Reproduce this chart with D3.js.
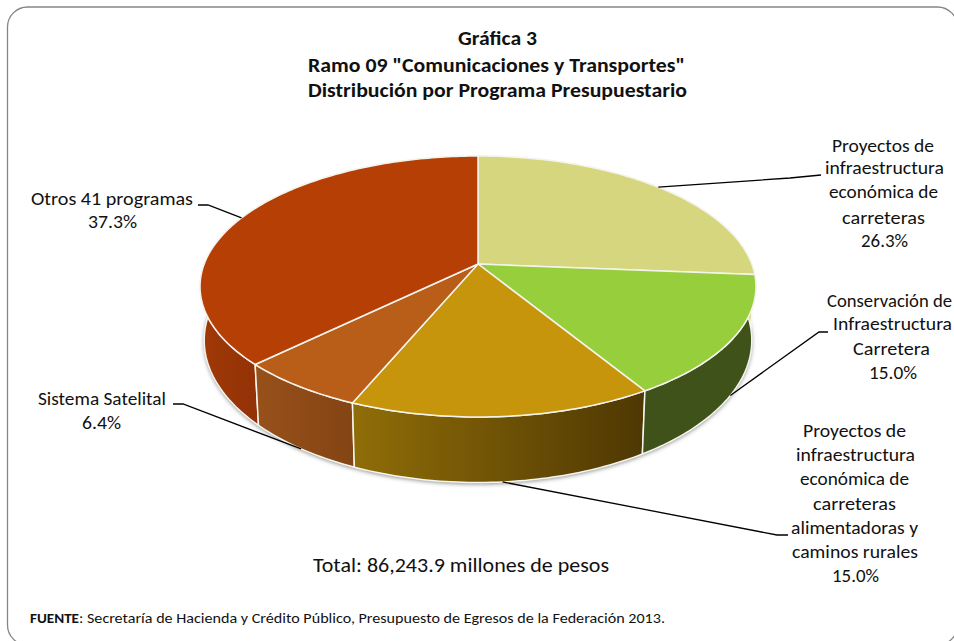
<!DOCTYPE html>
<html>
<head>
<meta charset="utf-8">
<script src="https://cdn.jsdelivr.net/npm/d3@7"></script>
<style>
  html, body { margin: 0; padding: 0; background: #fff; overflow: hidden; }
  svg { display: block; }
  text { font-family: Carlito, Lato, "Open Sans", sans-serif; fill: #111; }
</style>
</head>
<body>
<script>
const width = 954, height = 641;

/** DATA */
const programs = ["Proyectos carreteras", "Conservación", "Alimentadoras", "Sistema Satelital", "Otros 41 programas"];
const shares = [26.3, 15.0, 15.0, 6.4, 37.3];
const shareLabels = ["26.3%", "15.0%", "15.0%", "6.4%", "37.3%"];
const labelLines = [
  ["Proyectos de", "infraestructura", "económica de", "carreteras"],
  ["Conservación de", "Infraestructura", "Carretera"],
  ["Proyectos de", "infraestructura", "económica de", "carreteras", "alimentadoras y", "caminos rurales"],
  ["Sistema Satelital"],
  ["Otros 41 programas"]
];
const titleLines = ["Gráfica 3", "Ramo 09 \"Comunicaciones y Transportes\"", "Distribución por Programa Presupuestario"];
const totalText = "Total: 86,243.9 millones de pesos";
const sourceHead = "FUENTE";
const sourceText = ": Secretaría de Hacienda y Crédito Público, Presupuesto de Egresos de la Federación 2013.";

/** STYLE AND LAYOUT */
const topColors = ["#d6d67e", "#97ce3c", "#c6950c", "#b95e19", "#b53f05"];
const wallLeft = ["#d6d67e", "#3f5219", "#8f6d08", "#97501a", "#a03807"];
const wallRight = ["#d6d67e", "#3f5219", "#4f3803", "#834414", "#923206"];

// [left, right, baseline] of each text line
const titleBoxes = [[458, 537, 45], [308, 685, 72], [308, 687, 97]];
const labelBoxes = [
  [[832, 934, 152], [825, 944, 174], [829, 938, 198], [842, 925, 224], [861, 908, 247]],
  [[827, 952, 307], [833, 952, 330], [853, 930, 355], [869, 917, 379]],
  [[803, 906, 437], [796, 915, 461], [800, 909, 485], [813, 896, 510], [791, 918, 534], [792, 918, 558], [832, 879, 582]],
  [[38, 166, 405], [82, 121, 429]],
  [[31, 193, 205], [88, 137, 228]]
];
// leader: does it leave from the top rim, then elbow and end points
const leaderFromTop = [true, false, false, false, true];
const leaderEnds = [
  [[790, 178], [821, 175]],
  [[819, 332], [828, 332]],
  [[777, 535], [788, 535]],
  [[183, 404], [173, 404]],
  [[208, 205], [198, 205]]
];

// perspective projection of the pie disc
const cx = 478, cy = 264, a = 273.8, b = 126.6, k = 0.1724;
function rim(angle) {
  const u = Math.sin(angle), v = Math.cos(angle), w = 1 + k * v;
  return [cx + a * u / w, cy - b * v / w];
}
function lowerRim(angle) {
  const [x, y] = rim(angle);
  return [cx + (x - cx) * 0.985, y * 1.09 + 28];
}

const svg = d3.select("body").append("svg").attr("width", width).attr("height", height);
const defs = svg.append("defs");

const shadow = defs.append("filter").attr("id", "soft").attr("x", "-10%").attr("y", "-10%").attr("width", "120%").attr("height", "130%");
shadow.append("feGaussianBlur").attr("stdDeviation", 2);

// frame, runs off the right and bottom of the picture
svg.append("rect").attr("x", 7.5).attr("y", 7).attr("width", 950).attr("height", 638)
  .attr("rx", 20).attr("fill", "#fff").attr("stroke", "#858585").attr("stroke-width", 1.3);

const pie = d3.pie().value(d => d).sort(null)(shares);
const step = Math.PI / 180;
const pts = (s, e) => d3.range(s, e, step).concat([e]);
const mid = d => (d.startAngle + d.endAngle) / 2;

// soft shadow under the solid
svg.append("path").attr("d", d3.line()(pts(0, 2 * Math.PI).map(lowerRim)) + "Z")
  .attr("transform", "translate(0,1.5)")
  .attr("fill", "#8a8a8a").attr("filter", "url(#soft)");

// wall gradients run left to right across the visible part
pie.forEach((p, i) => {
  const xs = [p.startAngle, p.endAngle].map(t => lowerRim(t)[0]);
  const g = defs.append("linearGradient").attr("id", "wall" + i)
    .attr("gradientUnits", "userSpaceOnUse")
    .attr("x1", i === 4 ? 205 : d3.min(xs)).attr("x2", i === 4 ? 258 : d3.max(xs)).attr("y1", 0).attr("y2", 0);
  g.append("stop").attr("offset", 0).attr("stop-color", wallLeft[i]);
  g.append("stop").attr("offset", 1).attr("stop-color", wallRight[i]);
});

// side walls
svg.append("g").selectAll("path").data(pie.slice().reverse()).join("path")
  .attr("d", d => {
    const upper = pts(d.startAngle, d.endAngle).map(rim);
    const lower = pts(d.startAngle, d.endAngle).map(lowerRim).reverse();
    return d3.line()(upper.concat(lower)) + "Z";
  })
  .attr("fill", d => `url(#wall${d.index})`)
  .attr("stroke", "#f6f6f0").attr("stroke-width", 1.5).attr("stroke-linejoin", "round");

// top face
svg.append("g").selectAll("path").data(pie).join("path")
  .attr("d", d => d3.line()([[cx, cy]].concat(pts(d.startAngle, d.endAngle).map(rim))) + "Z")
  .attr("fill", (d, i) => topColors[i])
  .attr("stroke", "#f4f4ee").attr("stroke-width", 1.5).attr("stroke-linejoin", "round");

// leaders start at the middle of their slice
svg.append("g").selectAll("path").data(pie).join("path")
  .attr("d", (d, i) => d3.line()([(leaderFromTop[i] ? rim : lowerRim)(mid(d))].concat(leaderEnds[i])))
  .attr("fill", "none").attr("stroke", "#000").attr("stroke-width", 1.3);

// a text line squeezed into its box
function fitText(parent, str, box, size, weight) {
  return parent.append("text")
    .attr("x", box[0]).attr("y", box[2])
    .attr("textLength", box[1] - box[0]).attr("lengthAdjust", "spacingAndGlyphs")
    .attr("font-size", size).attr("font-weight", weight || 400)
    .text(str);
}

titleLines.forEach((t, i) => fitText(svg, t, titleBoxes[i], 20, 700));

pie.forEach((p, i) => {
  labelLines[i].concat(shareLabels[i]).forEach((t, j) => fitText(svg, t, labelBoxes[i][j], 18.5));
});

fitText(svg, totalText, [313, 609, 572], 20.5);
fitText(svg, sourceHead, [30, 79, 623], 14.5, 700);
fitText(svg, sourceText, [79, 665, 623], 14.5);
</script>
</body>
</html>
